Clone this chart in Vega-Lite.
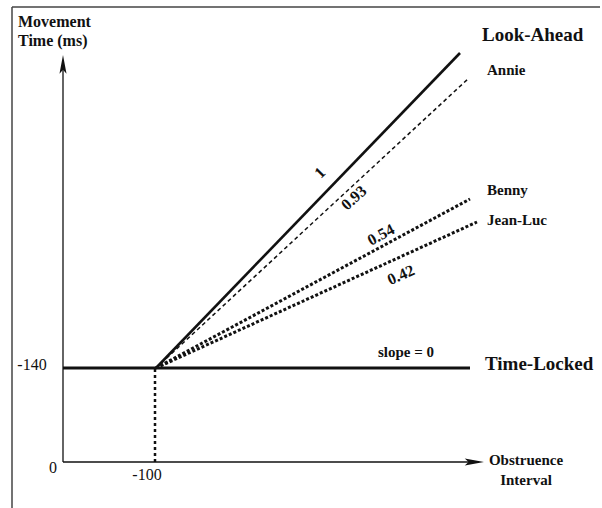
{
  "$schema": "https://vega.github.io/schema/vega-lite/v6.json",
  "width": 602,
  "height": 508,
  "autosize": {"type": "none"},
  "padding": 0,
  "background": "white",
  "config": {"view": {"stroke": null}, "text": {"font": "Liberation Serif", "color": "#111"}},
  "encoding": {
    "x": {"field": "x", "type": "quantitative", "axis": null, "scale": {"domain": [-63, 539], "nice": false, "zero": false}},
    "y": {"field": "y", "type": "quantitative", "axis": null, "scale": {"domain": [-46, 462], "nice": false, "zero": false}}
  },
  "layer": [
    {
      "data": {"values": [
        {"x": -51, "y": -46, "x2": -51, "y2": 455},
        {"x": -51, "y": 455, "x2": 537, "y2": 455}
      ]},
      "mark": {"type": "rule", "stroke": "#444", "strokeWidth": 1.5},
      "encoding": {"x2": {"field": "x2"}, "y2": {"field": "y2"}}
    },
    {
      "data": {"values": [
        {"x": 0, "y": 0, "x2": 0, "y2": 402},
        {"x": 0, "y": 0, "x2": 416, "y2": 0}
      ]},
      "mark": {"type": "rule", "stroke": "#111", "strokeWidth": 1.3},
      "encoding": {"x2": {"field": "x2"}, "y2": {"field": "y2"}}
    },
    {
      "data": {"values": [{"x": 0, "y": 396}]},
      "mark": {"type": "point", "shape": "M0,-1 L0.32,0.7 L0,0.35 L-0.32,0.7 Z", "filled": true, "color": "#111", "size": 484, "opacity": 1}
    },
    {
      "data": {"values": [{"x": 410, "y": 0}]},
      "mark": {"type": "point", "shape": "M1,0 L-0.75,-0.32 L-0.4,0 L-0.75,0.32 Z", "filled": true, "color": "#111", "size": 484, "opacity": 1}
    },
    {
      "data": {"values": [{"x": 0, "y": 94, "x2": 407, "y2": 94}]},
      "mark": {"type": "rule", "stroke": "#111", "strokeWidth": 3},
      "encoding": {"x2": {"field": "x2"}, "y2": {"field": "y2"}}
    },
    {
      "data": {"values": [{"x": 92, "y": 0, "x2": 92, "y2": 94}]},
      "mark": {"type": "rule", "stroke": "#111", "strokeWidth": 2.5, "strokeDash": [3, 3]},
      "encoding": {"x2": {"field": "x2"}, "y2": {"field": "y2"}}
    },
    {
      "data": {"values": [{"x": 93, "y": 94, "x2": 397, "y2": 409}]},
      "mark": {"type": "rule", "stroke": "#111", "strokeWidth": 2.6},
      "encoding": {"x2": {"field": "x2"}, "y2": {"field": "y2"}}
    },
    {
      "data": {"values": [{"x": 93, "y": 94, "x2": 406, "y2": 384}]},
      "mark": {"type": "rule", "stroke": "#111", "strokeWidth": 1.5, "strokeDash": [4, 3]},
      "encoding": {"x2": {"field": "x2"}, "y2": {"field": "y2"}}
    },
    {
      "data": {"values": [
        {"x": 93, "y": 94, "x2": 407, "y2": 263},
        {"x": 93, "y": 94, "x2": 414, "y2": 240}
      ]},
      "mark": {"type": "rule", "stroke": "#111", "strokeWidth": 3, "strokeDash": [3, 2]},
      "encoding": {"x2": {"field": "x2"}, "y2": {"field": "y2"}}
    },
    {
      "data": {"values": [{"x": -45, "y": 440, "t": "Movement\nTime (ms)"}]},
      "mark": {"type": "text", "align": "left", "baseline": "middle", "fontSize": 16, "fontWeight": "bold", "lineBreak": "\n", "lineHeight": 19},
      "encoding": {"text": {"field": "t"}}
    },
    {
      "data": {"values": [
        {"x": 419, "y": 427, "t": "Look-Ahead"},
        {"x": 422, "y": 98, "t": "Time-Locked"}
      ]},
      "mark": {"type": "text", "align": "left", "baseline": "middle", "fontSize": 19, "fontWeight": "bold"},
      "encoding": {"text": {"field": "t"}}
    },
    {
      "data": {"values": [
        {"x": 424, "y": 392, "t": "Annie"},
        {"x": 424, "y": 272, "t": "Benny"},
        {"x": 424, "y": 242, "t": "Jean-Luc"}
      ]},
      "mark": {"type": "text", "align": "left", "baseline": "middle", "fontSize": 15, "fontWeight": "bold"},
      "encoding": {"text": {"field": "t"}}
    },
    {
      "data": {"values": [{"x": 463, "y": 2, "t": "Obstruence\nInterval"}]},
      "mark": {"type": "text", "align": "center", "baseline": "middle", "fontSize": 15, "fontWeight": "bold", "lineBreak": "\n", "lineHeight": 20},
      "encoding": {"text": {"field": "t"}}
    },
    {
      "data": {"values": [{"x": 343, "y": 110, "t": "slope = 0"}]},
      "mark": {"type": "text", "align": "center", "baseline": "middle", "fontSize": 15, "fontWeight": "bold"},
      "encoding": {"text": {"field": "t"}}
    },
    {
      "data": {"values": [
        {"x": -31, "y": 97, "t": "-140"},
        {"x": -10, "y": -6, "t": "0"},
        {"x": 84, "y": -13, "t": "-100"}
      ]},
      "mark": {"type": "text", "align": "center", "baseline": "middle", "fontSize": 16},
      "encoding": {"text": {"field": "t"}}
    },
    {
      "data": {"values": [{"x": 257, "y": 289, "t": "1"}]},
      "mark": {"type": "text", "align": "center", "baseline": "middle", "fontSize": 16, "fontWeight": "bold", "angle": -45},
      "encoding": {"text": {"field": "t"}}
    },
    {
      "data": {"values": [{"x": 291, "y": 264, "t": "0.93"}]},
      "mark": {"type": "text", "align": "center", "baseline": "middle", "fontSize": 16, "fontWeight": "bold", "angle": -42},
      "encoding": {"text": {"field": "t"}}
    },
    {
      "data": {"values": [{"x": 318, "y": 227, "t": "0.54"}]},
      "mark": {"type": "text", "align": "center", "baseline": "middle", "fontSize": 16, "fontWeight": "bold", "angle": -28},
      "encoding": {"text": {"field": "t"}}
    },
    {
      "data": {"values": [{"x": 338, "y": 187, "t": "0.42"}]},
      "mark": {"type": "text", "align": "center", "baseline": "middle", "fontSize": 16, "fontWeight": "bold", "angle": -24},
      "encoding": {"text": {"field": "t"}}
    }
  ]
}
